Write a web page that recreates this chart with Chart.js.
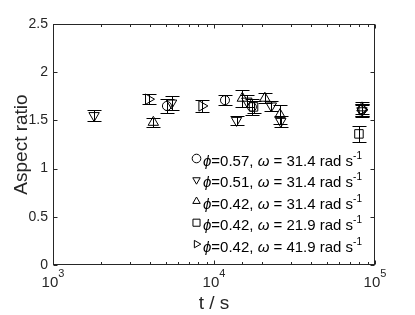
<!DOCTYPE html>
<html>
<head>
<meta charset="utf-8">
<script src="https://cdn.jsdelivr.net/npm/chart.js@4.4.1/dist/chart.umd.min.js"></script>
<style>
  html, body { margin: 0; padding: 0; background: #fff; }
  #wrap { width: 415px; height: 315px; }
</style>
</head>
<body>
<div id="wrap"><canvas id="chart"></canvas></div>
<script>
// --- data: time (s), aspect ratio, half error bar ---
const t057 = [5100, 11700, 17200, 83000];
const ar057 = [1.65, 1.71, 1.64, 1.61];
const err057 = [0.07, 0.055, 0.08, 0.06];

const t051 = [1800, 5450, 13800, 16000, 22700, 26000, 83000];
const ar051 = [1.55, 1.68, 1.50, 1.70, 1.65, 1.49, 1.60];
const err051 = [0.055, 0.07, 0.05, 0.06, 0.05, 0.06, 0.06];

const t042a = [4200, 15000, 20700, 25700, 83000];
const ar042a = [1.48, 1.73, 1.73, 1.56, 1.63];
const err042a = [0.05, 0.09, 0.05, 0.1, 0.06];

const t042b = [17600, 79500];
const ar042b = [1.64, 1.36];
const err042b = [0.06, 0.08];

const t042c = [3920, 8410, 83000];
const ar042c = [1.72, 1.65, 1.61];
const err042c = [0.05, 0.06, 0.06];

// legend text pieces
const phiLabels = ['0.57', '0.51', '0.42', '0.42', '0.42'];
const omegaLabels = ['31.4', '31.4', '31.4', '21.9', '41.9'];

// axis ticks
const yTicks = [0, 0.5, 1, 1.5, 2, 2.5];
const xDecades = [3, 4, 5];

const FONT = '"Liberation Sans", Arial, Helvetica, sans-serif';
const AXIS_COLOR = '#262626';

function pts(ts, ys) {
    return ts.map((t, i) => ({ x: t, y: ys[i] }));
}

function makeSet(ts, ys, errs, style, rotation, radius) {
    return {
        data: pts(ts, ys),
        err: errs,
        showLine: false,
        pointStyle: style,
        rotation: rotation,
        pointRadius: radius,
        pointBorderColor: '#000',
        pointBackgroundColor: 'rgba(0,0,0,0)',
        pointBorderWidth: 1
    };
}

const datasets = [
    makeSet(t057, ar057, err057, 'circle', 0, 4.5),
    makeSet(t051, ar051, err051, 'triangle', 180, 6),
    makeSet(t042a, ar042a, err042a, 'triangle', 0, 6),
    makeSet(t042b, ar042b, err042b, 'rect', 0, 6),
    makeSet(t042c, ar042c, err042c, 'triangle', 90, 6)
];

// error bars with caps
const errorBars = {
    id: 'errorBars',
    beforeDatasetsDraw(chart) {
        const ctx = chart.ctx, xs = chart.scales.x, ys = chart.scales.y;
        ctx.save();
        ctx.strokeStyle = '#000';
        ctx.lineWidth = 1;
        chart.data.datasets.forEach(ds => {
            ds.data.forEach((p, i) => {
                const x = Math.round(xs.getPixelForValue(p.x)) + 0.5;
                const yLo = Math.round(ys.getPixelForValue(p.y - ds.err[i])) + 0.5;
                const yHi = Math.round(ys.getPixelForValue(p.y + ds.err[i])) + 0.5;
                ctx.beginPath();
                ctx.moveTo(x, yLo); ctx.lineTo(x, yHi);
                ctx.moveTo(x - 7, yLo); ctx.lineTo(x + 7, yLo);
                ctx.moveTo(x - 7, yHi); ctx.lineTo(x + 7, yHi);
                ctx.stroke();
            });
        });
        ctx.restore();
    }
};

// box, inward ticks, x tick labels, legend
const frame = {
    id: 'frame',
    afterDraw(chart) {
        const ctx = chart.ctx, xs = chart.scales.x, ys = chart.scales.y;
        const a = chart.chartArea;
        const L = Math.round(a.left) + 0.5, R = Math.round(a.right) - 0.5;
        const T = Math.round(a.top) + 0.5, B = Math.round(a.bottom) - 0.5;
        ctx.save();
        ctx.strokeStyle = AXIS_COLOR;
        ctx.lineWidth = 1;
        ctx.strokeRect(L, T, R - L, B - T);

        ctx.beginPath();
        xs.ticks.forEach(tk => {
            const v = tk.value;
            const major = Math.abs(Math.log10(v) - Math.round(Math.log10(v))) < 1e-9;
            const len = major ? 4 : 2.5;
            const x = Math.round(xs.getPixelForValue(v)) + 0.5;
            ctx.moveTo(x, B); ctx.lineTo(x, B - len);
            ctx.moveTo(x, T); ctx.lineTo(x, T + len);
        });
        yTicks.forEach(v => {
            const y = Math.round(ys.getPixelForValue(v)) + 0.5;
            ctx.moveTo(L, y); ctx.lineTo(L + 4, y);
            ctx.moveTo(R, y); ctx.lineTo(R - 4, y);
        });
        ctx.stroke();

        // x tick labels 10^n
        ctx.fillStyle = AXIS_COLOR;
        ctx.textAlign = 'left';
        ctx.textBaseline = 'alphabetic';
        xDecades.forEach(e => {
            const x = xs.getPixelForValue(Math.pow(10, e));
            ctx.font = '15px ' + FONT;
            const wb = ctx.measureText('10').width;
            ctx.font = '11px ' + FONT;
            const we = ctx.measureText(String(e)).width;
            const x0 = x - (wb + we) / 2;
            ctx.font = '15px ' + FONT;
            ctx.fillText('10', x0, a.bottom + 22);
            ctx.font = '11px ' + FONT;
            ctx.fillText(String(e), x0 + wb, a.bottom + 12);
        });

        // legend
        ctx.fillStyle = '#000';
        chart.data.datasets.forEach((ds, i) => {
            const y = 161 + i * 21.4;
            ctx.save();
            ctx.strokeStyle = '#000';
            ctx.fillStyle = 'rgba(0,0,0,0)';
            ctx.lineWidth = 1;
            Chart.helpers.drawPoint(ctx, {
                pointStyle: ds.pointStyle,
                rotation: ds.rotation,
                radius: ds.pointStyle === 'rect' ? 5 : 4.3,
                borderWidth: 1
            }, 196.5, y - 2.5);
            ctx.restore();

            let x = 203;
            const base = y + 5;
            const parts = [
                ['italic 15px ' + FONT, 'ϕ', 0],
                ['15px ' + FONT, '=' + phiLabels[i] + ', ', 0],
                ['italic 15px ' + FONT, 'ω', 0],
                ['15px ' + FONT, ' = ' + omegaLabels[i] + ' rad s', 0],
                ['10px ' + FONT, '-1', -7]
            ];
            parts.forEach(([f, txt, dy]) => {
                ctx.font = f;
                ctx.fillText(txt, x, base + dy);
                x += ctx.measureText(txt).width;
            });
        });
        ctx.restore();
    }
};

const ctx = document.getElementById('chart').getContext('2d');
new Chart(ctx, {
    type: 'scatter',
    data: { datasets: datasets },
    options: {
        responsive: true,
        maintainAspectRatio: false,
        animation: false,
        events: [],
        layout: { padding: { top: 24, right: 40, left: 0, bottom: 0 } },
        plugins: {
            legend: { display: false },
            tooltip: { enabled: false }
        },
        scales: {
            x: {
                type: 'logarithmic',
                min: 1000,
                max: 100000,
                grid: { display: false, drawTicks: false },
                border: { display: false },
                ticks: { display: false, autoSkip: false },
                title: {
                    display: true,
                    text: 't / s',
                    color: AXIS_COLOR,
                    font: { family: FONT, size: 19 },
                    padding: { top: 0, bottom: 0 }
                },
                afterFit(scale) { scale.height = 50; }
            },
            y: {
                min: 0,
                max: 2.5,
                grid: { display: false, drawTicks: false },
                border: { display: false },
                ticks: {
                    stepSize: 0.5,
                    padding: 5,
                    color: AXIS_COLOR,
                    font: { family: FONT, size: 14 },
                    callback: v => String(v)
                },
                title: {
                    display: true,
                    text: 'Aspect ratio',
                    color: AXIS_COLOR,
                    font: { family: FONT, size: 19 },
                    padding: { top: 10, bottom: 0 }
                },
                afterFit(scale) { scale.width = 53; }
            }
        }
    },
    plugins: [errorBars, frame]
});
</script>
</body>
</html>
